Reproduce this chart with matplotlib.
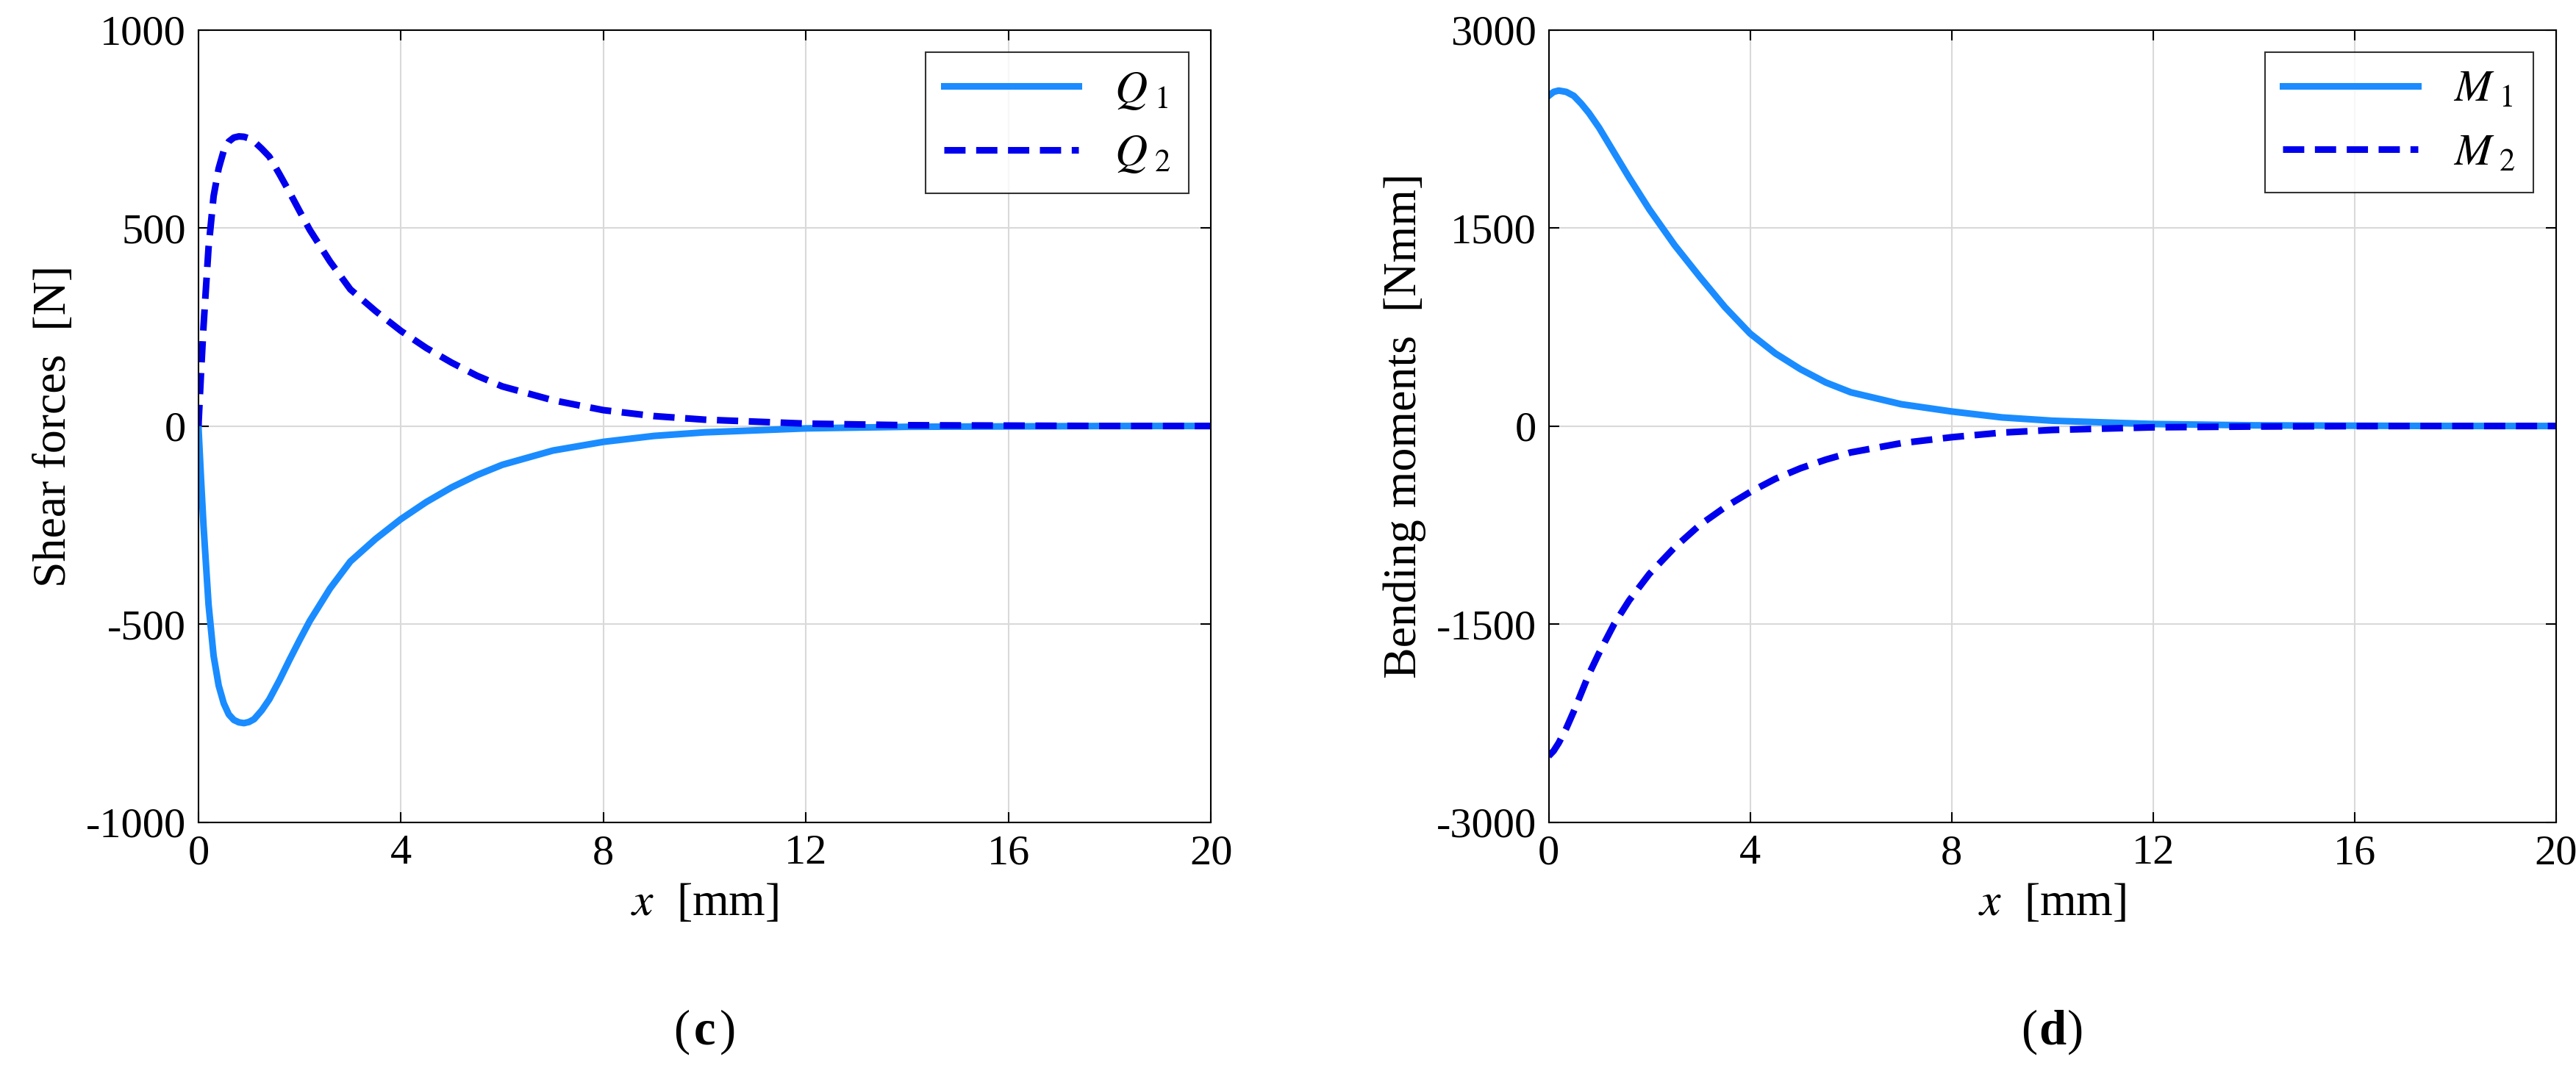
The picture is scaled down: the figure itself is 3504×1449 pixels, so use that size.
import matplotlib
matplotlib.use("Agg")
import matplotlib.pyplot as plt

plt.rcParams['font.family'] = ['Liberation Serif', 'DejaVu Serif']
plt.rcParams['mathtext.fontset'] = 'stix'
plt.rcParams['axes.unicode_minus'] = False

xq = [0,0.05,0.1,0.2,0.3,0.4,0.5,0.6,0.7,0.8,0.9,1.0,1.1,1.25,1.4,1.6,1.8,2.0,2.2,2.6,3,3.5,4,4.5,5,5.5,6,7,8,9,10,12,14,16,18,20]
Q1 = [0,-130,-250,-450,-580,-655,-700,-728,-742,-748,-750,-747,-740,-718,-690,-642,-590,-540,-492,-410,-342,-285,-235,-192,-155,-124,-98,-62,-40,-25,-16,-6,-2,-1,0,0]
Q2 = [0,130,250,450,580,650,695,718,728,731,730,726,718,700,680,636,590,542,495,415,345,290,240,197,160,127,100,65,40,25,16,6,2,1,0,0]

xm = [0,0.1,0.2,0.35,0.5,0.65,0.8,1.0,1.3,1.6,2.0,2.5,3,3.5,4,4.5,5,5.5,6,7,8,9,10,12,14,16,18,20]
M1 = [2500,2530,2540,2530,2500,2440,2370,2260,2070,1880,1640,1370,1130,900,700,550,430,330,255,165,110,65,40,15,5,2,0,0]
M2 = [-2500,-2460,-2400,-2290,-2160,-2020,-1880,-1720,-1500,-1320,-1120,-920,-750,-615,-500,-400,-320,-255,-200,-130,-85,-50,-30,-10,-4,-1,0,0]

c1 = '#1A8CFF'
c2 = '#0000EE'
fig = plt.figure(figsize=(35.05, 14.49), dpi=100)
ax1 = fig.add_axes([0.077, 0.228, 0.393, 0.744])
ax2 = fig.add_axes([0.601, 0.228, 0.391, 0.744])
fs = 42
for ax, xs, a, b, lab, yl, lim, ticks, cap in [
    (ax1, xq, Q1, Q2, 'Q', 'Shear forces  [N]', 1000, [-1000,-500,0,500,1000], 'c'),
    (ax2, xm, M1, M2, 'M', 'Bending moments  [Nmm]', 3000, [-3000,-1500,0,1500,3000], 'd')]:
    ax.plot(xs, a, color=c1, lw=6.5, label=r'$%s_{\ 1}$' % lab, solid_joinstyle='round')
    ax.plot(xs, b, color=c2, lw=6.5, ls=(0, (3.2, 1.6)), label=r'$%s_{\ 2}$' % lab)
    ax.set_xlim(0, 20); ax.set_ylim(-lim, lim)
    ax.set_xticks([0,4,8,12,16,20]); ax.set_yticks(ticks)
    ax.grid(True, color='#d9d9d9', lw=1.5)
    ax.tick_params(labelsize=fs, direction='in', length=10, width=1.5, top=True, right=True, pad=12)
    for s in ax.spines.values(): s.set_linewidth(1.5)
    ax.set_xlabel(r'$x$  [mm]', fontsize=fs+4, labelpad=10)
    ax.set_ylabel(yl, fontsize=fs+4, labelpad=10)
    leg = ax.legend(loc='upper right', fontsize=fs+2, fancybox=False, edgecolor='black', handlelength=3)
    leg.get_frame().set_linewidth(1.5)
    t = ax.text(0.5, -0.265, cap, transform=ax.transAxes, fontsize=fs+6, ha='center', va='center', fontweight='bold')
    ax.text(0.485, -0.265, '(', transform=ax.transAxes, fontsize=fs+6, ha='right', va='center')
    ax.text(0.515, -0.265, ')', transform=ax.transAxes, fontsize=fs+6, ha='left', va='center')
fig.savefig('out.png', dpi=100)
